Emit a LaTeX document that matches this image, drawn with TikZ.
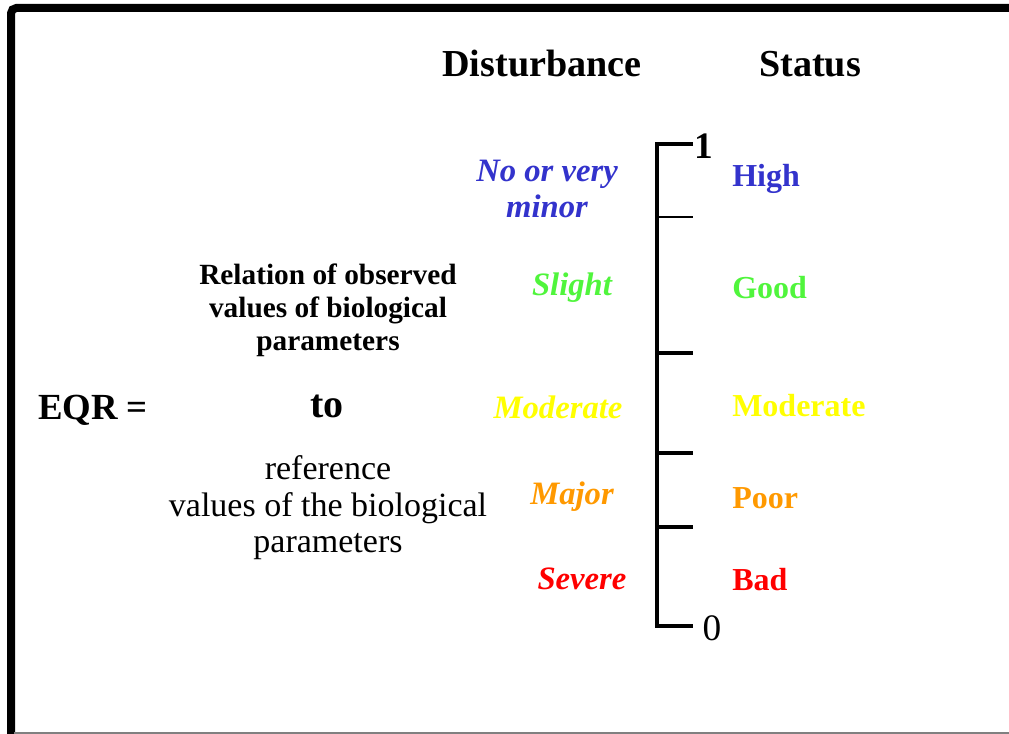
\documentclass[tikz,border=0pt]{standalone}
\usepackage{fontspec}
\setmainfont{Liberation Serif}
\definecolor{cblue}{RGB}{51,51,204}
\definecolor{cgreen}{RGB}{80,245,60}
\definecolor{cyellow}{RGB}{255,255,0}
\definecolor{corange}{RGB}{255,153,0}
\definecolor{cred}{RGB}{255,0,0}
\tikzset{
  hdr/.style={font=\fontsize{28.6}{34}\bfseries\selectfont, inner sep=0pt},
  dist/.style={font=\fontsize{24.5}{27}\bfseries\itshape\selectfont, inner sep=0pt, align=center},
  stat/.style={font=\fontsize{24}{28}\bfseries\selectfont, inner sep=0pt, anchor=west},
  upper/.style={font=\fontsize{22}{24.75}\bfseries\selectfont, inner sep=0pt, align=center},
  lower/.style={font=\fontsize{25.5}{27.4}\selectfont, inner sep=0pt, align=center},
  axis/.style={line width=2.3pt},
  tick/.style={line width=2.3pt},
}
\begin{document}
\begin{tikzpicture}[x=0.75pt,y=-0.75pt]
\useasboundingbox (0,0) rectangle (1009,734);
% frame
\draw[line width=6pt, rounded corners=4pt] (11,734) -- (11,8) -- (1012,8);
\draw[gray, line width=1.5pt] (14,732.5) -- (1009,732.5);
% headers
\node[hdr] (dh) at (542,64) {Disturbance};
\node[hdr] (sh) at (810,64) {Status};
% scale
\coordinate (ta) at (693,144);
\coordinate (tb) at (657,144);
\coordinate (ba) at (657,626);
\coordinate (bb) at (693,626);
\draw[axis] (ta) -- (tb) -- (ba) -- (bb);
\draw[line width=1.1pt] (657,217) -- (693,217);
\draw[tick] (657,353) -- (693,353);
\draw[tick] (657,453) -- (693,453);
\draw[tick] (657,527) -- (693,527);
\node[font=\fontsize{28}{31}\bfseries\selectfont, inner sep=0pt] (one) at (704,146) {1};
\node[font=\fontsize{28}{31}\selectfont, inner sep=0pt] (zero) at (712,628) {0};
% disturbance
\node[dist, text=cblue] (d1) at (547,189) {No or very\\minor};
\node[dist, text=cgreen] (d2) at (572,288) {Slight};
\node[dist, text=cyellow] (d3) at (558,407) {Moderate};
\node[dist, text=corange] (d4) at (572,497) {Major};
\node[dist, text=cred] (d5) at (582,579) {Severe};
% status
\node[stat, text=cblue] (s1) at (732,179) {High};
\node[stat, text=cgreen] (s2) at (732,288) {Good};
\node[stat, text=cyellow] (s3) at (732,406) {Moderate};
\node[stat, text=corange] (s4) at (732,498) {Poor};
\node[stat, text=cred] (s5) at (732,580) {Bad};
% EQR
\node[font=\fontsize{27.6}{31}\bfseries\selectfont, inner sep=0pt] (eqr) at (93,410) {EQR =};
\node[upper] (rel) at (328,310) {Relation of observed\\values of biological\\parameters};
\node[font=\fontsize{30}{34}\bfseries\selectfont, inner sep=0pt] (to) at (327,406) {to};
\node[lower] (ref) at (328,508) {reference\\values of the biological\\parameters};
\end{tikzpicture}
\end{document}
